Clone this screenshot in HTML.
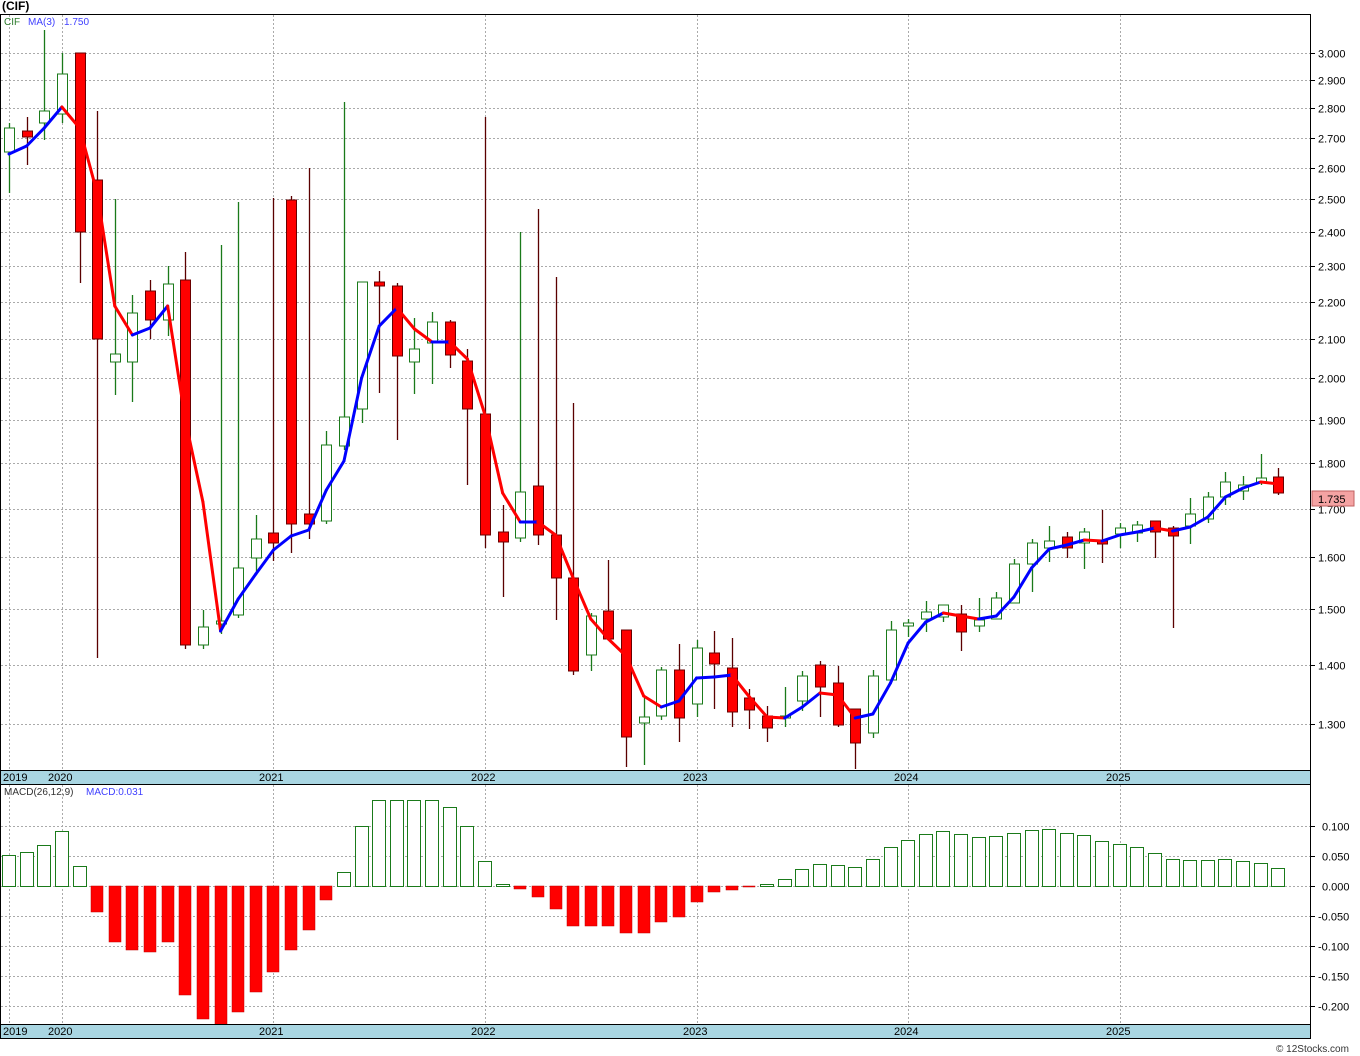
<!DOCTYPE html>
<html><head><meta charset="utf-8"><style>
body{margin:0;background:#fff;width:1360px;height:1056px;overflow:hidden;font-family:"Liberation Sans",sans-serif}
svg{display:block}
text{font-family:"Liberation Sans",sans-serif}
</style></head><body>
<svg id="s" width="1360" height="1056" xmlns="http://www.w3.org/2000/svg">
<rect x="0" y="0" width="1360" height="1056" fill="#fff"/>
<g id="grid"></g>
<g id="macd"></g>
<g id="cand"></g>
<g id="ma"></g>
<rect x="0.5" y="14.5" width="1310" height="756" fill="none" stroke="#000"/>
<rect x="0.5" y="784.5" width="1310" height="240" fill="none" stroke="#000"/>
<rect x="0.5" y="770.5" width="1310" height="14" fill="#a9d6e2" stroke="#000"/>
<rect x="0.5" y="1024.5" width="1310" height="14" fill="#a9d6e2" stroke="#000"/>
<text x="2" y="10" font-size="12" font-weight="bold">(CIF)</text>
<text x="4" y="25" font-size="10" fill="#2a7a2a">CIF</text>
<text x="28" y="25" font-size="10" fill="#4040ff">MA(3)</text>
<text x="64" y="25" font-size="10" fill="#4040ff">1.750</text>
<text x="4" y="795" font-size="10" fill="#333">MACD(26,12,9)</text>
<text x="86" y="795" font-size="10" fill="#4040ff">MACD:0.031</text>
<g font-size="11" fill="#000">
<text x="3" y="781">2019</text><text x="48" y="781">2020</text><text x="259" y="781">2021</text><text x="471" y="781">2022</text><text x="683" y="781">2023</text><text x="894" y="781">2024</text><text x="1106" y="781">2025</text>
<text x="3" y="1035">2019</text><text x="48" y="1035">2020</text><text x="259" y="1035">2021</text><text x="471" y="1035">2022</text><text x="683" y="1035">2023</text><text x="894" y="1035">2024</text><text x="1106" y="1035">2025</text>
</g>
<g id="ax" font-size="11" fill="#000"></g>
<rect x="1312" y="491" width="42" height="15" fill="#f4a3a3" stroke="#c06060"/>
<text x="1318" y="503" font-size="11">1.735</text>
<text x="1276" y="1052" font-size="10" fill="#333">© 12Stocks.com</text>
</svg>
<script>
var NS="http://www.w3.org/2000/svg";
function el(p,t,a){var e=document.createElementNS(NS,t);for(var k in a)e.setAttribute(k,a[k]);document.getElementById(p).appendChild(e);return e;}
function Y(v){return 53+802.4*Math.log(3/v);}
var labs=["3.000","2.900","2.800","2.700","2.600","2.500","2.400","2.300","2.200","2.100","2.000","1.900","1.800","1.700","1.600","1.500","1.400","1.300"];
labs.forEach(function(l){var y=Math.round(Y(parseFloat(l)))+0.5;
el("grid","line",{x1:1,x2:1310,y1:y,y2:y,stroke:"#aaa","stroke-dasharray":"2,2"});
el("ax","line",{x1:1310,x2:1315,y1:y,y2:y,stroke:"#000"});
var t=el("ax","text",{x:1318,y:y+4});t.textContent=l;});
[9,62,273,485,697,908,1120].forEach(function(x){
el("grid","line",{x1:x+.5,x2:x+.5,y1:15,y2:770,stroke:"#aaa","stroke-dasharray":"2,2"});
el("grid","line",{x1:x+.5,x2:x+.5,y1:785,y2:1024,stroke:"#aaa","stroke-dasharray":"2,2"});});
var ml=[["0.100",826],["0.050",856],["0.000",886],["-0.050",916],["-0.100",946],["-0.150",976],["-0.200",1006]];
ml.forEach(function(m){var y=m[1]+.5;
el("grid","line",{x1:1,x2:1310,y1:y,y2:y,stroke:"#aaa","stroke-dasharray":"2,2"});
el("ax","line",{x1:1310,x2:1315,y1:y,y2:y,stroke:"#000"});
var t=el("ax","text",{x:m[0][0]=="-"?1318:1322,y:y+4});t.textContent=m[0];});
var C=[[123,193,128,152,1],[117,165,131,137,0],[30,140,111,123,1],[53,123,74,114,1],[53,283,53,232,0],[111,658,180,339,0],[199,395,354,362,1],[295,402,313,362,1],[280,339,291,320,0],[266,336,284,320,1],[252,649,280,645,0],[610,649,627,645,1],[245,634,621,624,1],[202,618,568,615,1],[515,574,539,558,1],[198,561,533,543,0],[196,553,200,524,0],[168,539,514,524,0],[431,524,445,521,1],[102,450,417,446,1],[282,423,282,409,1],[271,393,282,286,0],[283,440,286,356,0],[318,394,349,362,1],[312,384,322,343,1],[320,368,322,355,0],[349,485,361,409,0],[117,548,414,535,0],[505,597,532,542,0],[232,542,492,538,1],[209,545,486,535,0],[277,620,535,578,0],[403,675,578,671,0],[613,671,616,655,1],[560,639,611,639,0],[630,767,630,737,0],[697,765,717,723,1],[667,720,670,716,1],[644,742,670,718,0],[640,717,648,704,1],[631,709,653,664,0],[638,727,668,712,0],[689,729,698,710,0],[706,742,716,728,0],[687,727,716,718,1],[671,711,676,701,1],[661,717,665,687,0],[666,727,683,725,0],[709,769,709,743,0],[670,738,676,733,1],[621,680,630,680,1],[619,637,623,626,1],[601,632,612,619,1],[605,622,605,617,1],[605,651,614,632,0],[598,632,620,626,1],[592,619,598,619,1],[559,603,564,603,1],[539,592,543,564,1],[526,562,541,548,1],[532,558,537,548,0],[528,569,532,543,1],[510,563,541,544,0],[523,548,528,534,1],[521,542,525,533,1],[521,558,521,532,0],[526,628,528,536,0],[498,544,514,526,1],[492,523,497,519,1],[472,505,482,497,1],[476,500,485,491,1],[454,485,478,483,1],[468,495,477,493,0]];
C.forEach(function(c,i){var x=Math.round(9+17.63*i)+.5;var up=c[4];
var wc=up?"#1a7a1a":"#5a0000";
el("cand","line",{x1:x,x2:x,y1:c[0],y2:c[1],stroke:wc,"stroke-width":1.3});
var h=Math.max(c[3]-c[2],2);
el("cand","rect",{x:x-5,y:c[2],width:10,height:h,fill:up?"#fff":"#ff0000",stroke:up?"#1a7a1a":"#6a0000","stroke-width":1});});
var M=[154,146,128,107,128,193,306,335,328,306,420,502,631,599,574,550,536,530,490,461,378,326,308,329,342,342,359,415,493,522,522,535,578,619,639,656,696,707,701,678,677,675,697,717,718,707,693,695,718,714,683,643,622,613,616,619,616,597,568,549,545,540,541,535,532,528,531,527,517,497,488,482,484];
for(var i=1;i<M.length;i++){var x0=9+17.63*(i-1),x1=9+17.63*i;
var col=M[i]<=M[i-1]?"#0000ff":"#ff0000";
el("ma","line",{x1:x0,x2:x1,y1:M[i-1],y2:M[i],stroke:col,"stroke-width":3,"stroke-linecap":"round"});}
var H=[855,852,845,831,866,912,942,950,952,942,995,1019,1025,1012,992,972,950,930,900,872,826,800,800,800,800,807,826,861,884,889,897,909,926,926,926,933,933,922,917,902,
892,890,887,884,879,869,864,865,867,859,847,840,834,831,834,837,836,833,830,829,833,835,841,844,847,853,859,860,860,859,861,863,868];
H.forEach(function(v,i){var x=Math.round(9+17.63*i);
if(v<886){el("macd","rect",{x:x-6.5,y:v+.5,width:13,height:886-v,fill:"#fff",stroke:"#1a7a1a"});}
else{el("macd","rect",{x:x-6,y:886,width:12,height:Math.max(v-886,1),fill:"#ff0000",stroke:"#c00000","stroke-width":.5});}});
</script>
</body></html>
